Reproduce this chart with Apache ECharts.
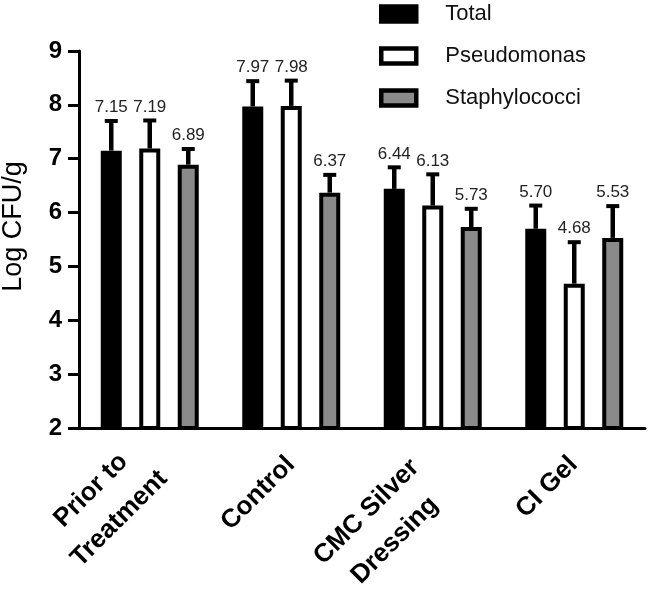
<!DOCTYPE html>
<html>
<head>
<meta charset="utf-8">
<script src="https://cdn.jsdelivr.net/npm/echarts@6/dist/echarts.min.js"></script>
<style>html,body{margin:0;padding:0;background:#fff}#c{width:649px;height:593px}</style>
</head>
<body>
<div id="c"></div>
<script>
var categories = ['Prior to\nTreatment', 'Control', 'CMC Silver\nDressing', 'CI Gel'];
var seriesNames = ['Total', 'Pseudomonas', 'Staphylococci'];
var totalMean = [7.15, 7.97, 6.44, 5.70];
var pseudoMean = [7.19, 7.98, 6.13, 4.68];
var staphMean = [6.89, 6.37, 5.73, 5.53];
var totalErr = [0.55, 0.47, 0.40, 0.43];
var pseudoErr = [0.52, 0.47, 0.58, 0.77];
var staphErr = [0.29, 0.33, 0.34, 0.59];
var yTicks = [2, 3, 4, 5, 6, 7, 8, 9];

var FONT = '"Liberation Sans", Arial, sans-serif';
var BAR_W = 21, BAR_GAP = 17.5;
var fills = ['#000000', '#ffffff', '#8a8a8a'];
var means = [totalMean, pseudoMean, staphMean];
var errs = [totalErr, pseudoErr, staphErr];

// per-label padding (layout only) to follow the reference placement
var labelPadding = [[0, 0, 0, 0], [0, 0, 0, 0], [20, 14, 0, 0], [0, 0, 0, 0]];

// category label: each line centred within its block
var XFONT_SIZE = 26;
var ctx = document.createElement('canvas').getContext('2d');
ctx.font = 'bold ' + XFONT_SIZE + 'px ' + FONT;
var rich = {};
categories.forEach(function (c, i) {
  var w = 0;
  c.split('\n').forEach(function (l) { w = Math.max(w, ctx.measureText(l).width); });
  rich['c' + i] = {width: Math.ceil(w) + 1, align: 'center', fontFamily: FONT, fontWeight: 'bold',
    fontSize: XFONT_SIZE, lineHeight: 40, color: '#000'};
});
var xData = categories.map(function (c, i) {
  return {value: c, textStyle: {padding: labelPadding[i]}};
});

var chart = echarts.init(document.getElementById('c'), null, {renderer: 'canvas'});

function errSeries(k) {
  var offset = (k - 1) * (BAR_W + BAR_GAP);
  return {
    type: 'custom',
    name: seriesNames[k] + ' err',
    z: 5,
    silent: true,
    data: means[k].map(function (m, i) { return [i, m, errs[k][i]]; }),
    encode: {x: 0, y: 1},
    renderItem: function (params, api) {
      var i = api.value(0), m = api.value(1), e = api.value(2);
      var p0 = api.coord([i, m]);
      var p1 = api.coord([i, m + e]);
      var x = p0[0] + offset;
      return {
        type: 'group',
        children: [
          {type: 'line', shape: {x1: x, y1: p0[1], x2: x, y2: p1[1]}, style: {stroke: '#000', lineWidth: 4.5}},
          {type: 'line', shape: {x1: x - 6.5, y1: p1[1], x2: x + 6.5, y2: p1[1]}, style: {stroke: '#000', lineWidth: 4}},
          {type: 'text', x: x, y: p1[1] - 5, style: {text: m.toFixed(2), align: 'center', verticalAlign: 'bottom', font: '17px ' + FONT, fill: '#222'}}
        ]
      };
    }
  };
}

var series = [];
for (var k = 0; k < 3; k++) {
  series.push({
    type: 'bar',
    name: seriesNames[k],
    data: means[k],
    barWidth: BAR_W,
    barGap: (BAR_GAP / BAR_W * 100).toFixed(1) + '%',
    itemStyle: {color: fills[k], borderColor: '#000', borderWidth: 4},
    z: 3
  });
}
for (var k2 = 0; k2 < 3; k2++) series.push(errSeries(k2));

chart.setOption({
  animation: false,
  grid: {left: 79, right: 4, top: 51, bottom: 165, containLabel: false, outerBoundsMode: 'none'},
  legend: {
    orient: 'vertical',
    left: 379,
    top: 3,
    padding: 0,
    icon: 'rect',
    itemWidth: 35,
    itemHeight: 15,
    itemGap: 20,
    data: seriesNames,
    itemStyle: {borderColor: '#000', borderWidth: 4.5},
    textStyle: {fontFamily: FONT, fontSize: 22, color: '#111', padding: [0, 0, 0, 24]}
  },
  xAxis: {
    type: 'category',
    data: xData,
    axisLine: {lineStyle: {color: '#000', width: 3}},
    axisTick: {alignWithLabel: true, length: 10, lineStyle: {width: 3, color: '#000'}},
    axisLabel: {
      rotate: 45, margin: 32, interval: 0,
      fontFamily: FONT, fontWeight: 'bold', fontSize: XFONT_SIZE, color: '#000', lineHeight: 40,
      formatter: function (v, i) {
        return v.split('\n').map(function (l) { return '{c' + i + '|' + l + '}'; }).join('\n');
      },
      rich: rich
    }
  },
  yAxis: {
    type: 'value',
    min: 2,
    max: 9,
    interval: 1,
    name: 'Log CFU/g',
    nameLocation: 'middle',
    nameGap: 52,
    nameTextStyle: {fontFamily: FONT, fontSize: 27, color: '#000', padding: [0, 0, 0, 26]},
    splitLine: {show: false},
    axisLine: {show: true, lineStyle: {color: '#000', width: 3}},
    axisTick: {show: true, length: 11, lineStyle: {width: 3, color: '#000'}},
    axisLabel: {margin: 17, fontFamily: FONT, fontWeight: 'bold', fontSize: 24, color: '#000',
      formatter: function (v) { return yTicks.indexOf(v) >= 0 ? String(v) : ''; }}
  },
  series: series
});
</script>
</body>
</html>
